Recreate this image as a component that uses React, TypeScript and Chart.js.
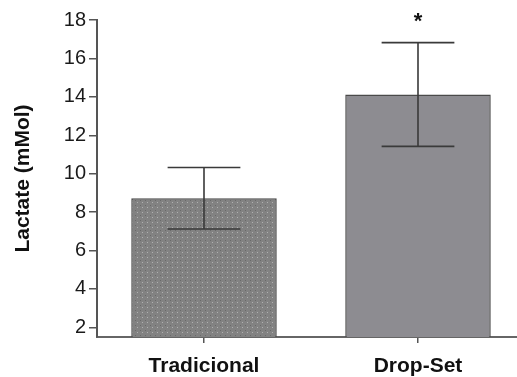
import React, { useEffect, useRef } from "react";
import { Chart, registerables } from "chart.js";

Chart.register(...registerables);

const categories = ["Tradicional", "Drop-Set"];
const means = [8.72, 14.12];
const sd = [1.6, 2.7];
const significance = ["", "*"];
const yTicks = [2, 4, 6, 8, 10, 12, 14, 16, 18];
const yTitle = "Lactate (mMol)";

function makePattern(): CanvasPattern | string {
  const c = document.createElement("canvas");
  c.width = 5;
  c.height = 5;
  const g = c.getContext("2d");
  if (!g) return "#8a8a8a";
  g.fillStyle = "#828282";
  g.fillRect(0, 0, 5, 5);
  g.fillStyle = "#b0b0b0";
  g.fillRect(2, 2, 1, 1);
  g.fillStyle = "#6a6a6a";
  g.fillRect(0, 0, 1, 1);
  const p = g.createPattern(c, "repeat");
  return p || "#8a8a8a";
}

const errorBarPlugin = {
  id: "errorBars",
  afterDatasetsDraw(chart: any) {
    const ctx = chart.ctx;
    const meta = chart.getDatasetMeta(0);
    const y = chart.scales.y;
    ctx.save();
    meta.data.forEach((bar: any, i: number) => {
      const top = y.getPixelForValue(means[i] + sd[i]);
      const bot = y.getPixelForValue(means[i] - sd[i]);
      const half = bar.width / 4;
      ctx.strokeStyle = "#3a3a3a";
      ctx.lineWidth = 1.6;
      ctx.beginPath();
      ctx.moveTo(bar.x, top);
      ctx.lineTo(bar.x, bot);
      ctx.moveTo(bar.x - half, top);
      ctx.lineTo(bar.x + half, top);
      ctx.moveTo(bar.x - half, bot);
      ctx.lineTo(bar.x + half, bot);
      ctx.stroke();
      if (significance[i]) {
        ctx.fillStyle = "#111";
        ctx.font = "bold 22px 'Liberation Sans', Arial, sans-serif";
        ctx.textAlign = "center";
        ctx.textBaseline = "middle";
        ctx.fillText(significance[i], bar.x, top - 21);
      }
    });
    ctx.restore();
  },
};

export default function App() {
  const ref = useRef<HTMLCanvasElement>(null);
  useEffect(() => {
    if (!ref.current) return;
    const pattern = makePattern();
    const chart = new Chart(ref.current, {
      type: "bar",
      data: {
        labels: categories,
        datasets: [
          {
            data: means,
            backgroundColor: [pattern, "#8d8c91"],
            borderColor: ["#4a4a4a", "#4a4a4a"],
            borderWidth: 1.5,
            barPercentage: 0.68,
            categoryPercentage: 1,
          },
        ],
      },
      options: {
        responsive: false,
        animation: false,
        devicePixelRatio: 1,
        layout: { padding: { left: 0, top: 20, right: 5, bottom: 0 } },
        plugins: {
          legend: { display: false },
          tooltip: { enabled: false },
        },
        scales: {
          x: {
            offset: true,
            grid: {
              display: true,
              drawOnChartArea: false,
              drawTicks: true,
              tickLength: 6,
              color: "#555",
              lineWidth: 1.5,
              offset: false,
            },
            border: { display: true, color: "#666", width: 2 },
            ticks: {
              color: "#111",
              padding: 11,
              font: { family: "'Liberation Sans', Arial, sans-serif", size: 21, weight: "bold" },
            },
            afterFit: (s: any) => {
              s.height = 40;
            },
          },
          y: {
            min: 1.5,
            max: 18,
            grid: {
              display: true,
              drawOnChartArea: false,
              drawTicks: true,
              tickLength: 8,
              color: "#555",
              lineWidth: 1.5,
            },
            border: { display: true, color: "#555", width: 2 },
            ticks: {
              color: "#1a1a1a",
              padding: 3,
              font: { family: "'Liberation Sans', Arial, sans-serif", size: 20 },
            },
            afterBuildTicks: (s: any) => {
              s.ticks = yTicks.map((v) => ({ value: v }));
            },
            title: {
              display: true,
              text: yTitle,
              color: "#111",
              padding: { top: 11, bottom: 0 },
              font: { family: "'Liberation Sans', Arial, sans-serif", size: 21, weight: "bold" },
            },
            afterFit: (s: any) => {
              s.width = 97;
            },
          },
        },
      },
      plugins: [errorBarPlugin],
    });
    return () => chart.destroy();
  }, []);
  return (
    <div
      style={{
        position: "fixed",
        left: 0,
        top: 0,
        width: 517,
        height: 377,
        overflow: "hidden",
        background: "#fff",
      }}
    >
      <canvas ref={ref} width={530} height={377} style={{ display: "block" }} />
    </div>
  );
}
